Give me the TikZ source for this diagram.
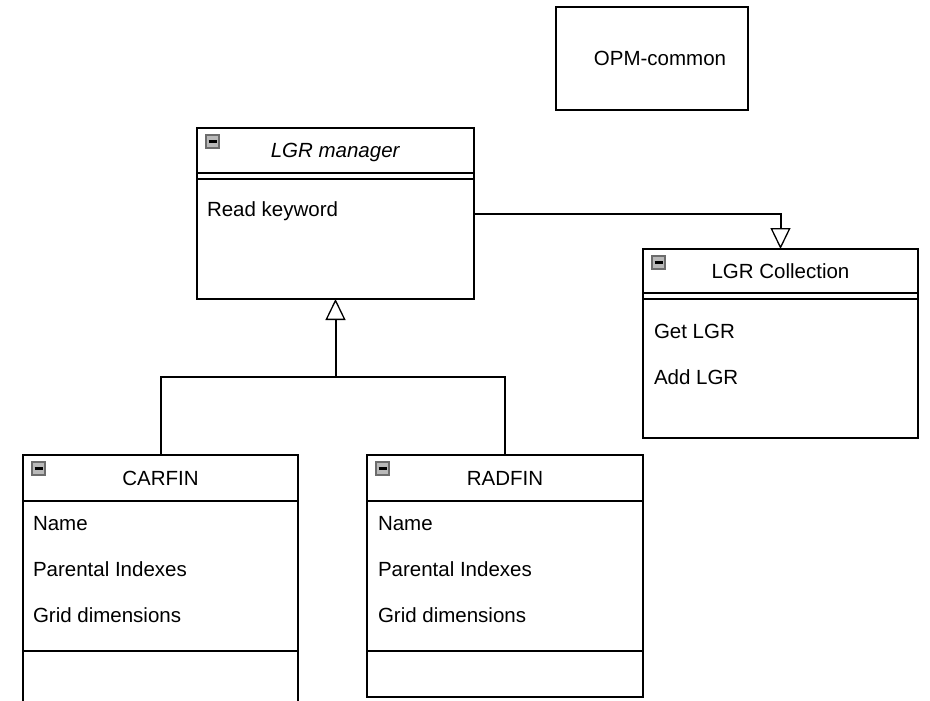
\documentclass[tikz,border=0pt]{standalone}
\usepackage{fontspec}
\setmainfont{Liberation Sans}
\usetikzlibrary{arrows.meta,positioning}

\begin{document}
\begin{tikzpicture}[
  x=1pt,y=-1pt,
  font=\fontsize{20.5}{24}\selectfont,
  every node/.style={outer sep=0pt},
  box/.style={draw,line width=2pt,inner sep=0pt},
  head/.style={box,text depth=0pt},
  members/.style={align=left,inner sep=0pt,font=\fontsize{20.5}{46}\selectfont},
  collapse/.style={draw=gray!85!black,fill=gray!55,line width=1.2pt,minimum size=13pt,inner sep=0pt,
    path picture={\draw[line width=2.4pt,black] ([xshift=2.5pt]path picture bounding box.west) -- ([xshift=-2.5pt]path picture bounding box.east);}},
  link/.style={line width=2pt},
  extends/.style={link,-{Triangle[open,width=20pt,length=21pt,line width=1.3pt]}},
]
  \useasboundingbox (0,0) rectangle (930,701);

  % package box
  \node[box,minimum width=192pt,minimum height=103pt] (opm) at (652,58.5) {\hspace*{16pt}OPM-common};

  % LGR manager
  \node[head,minimum width=277pt,minimum height=45pt] (mgrhead) at (335.5,150.5) {\textit{LGR manager}};
  \node[box,minimum width=277pt,minimum height=6pt,below=0pt of mgrhead] (mgrattr) {};
  \node[box,minimum width=277pt,minimum height=120pt,below=0pt of mgrattr] (mgrops) {};
  \node[collapse,below right=7pt and 9pt of mgrhead.north west] (mgricon) {};
  \node[members,below right=23pt and 10pt of mgrops.north west] (mgrtext) {Read keyword};

  % LGR Collection
  \node[head,minimum width=275pt,minimum height=44pt] (collhead) at (780.5,271) {LGR Collection};
  \node[box,minimum width=275pt,minimum height=6pt,below=0pt of collhead] (collattr) {};
  \node[box,minimum width=275pt,minimum height=139pt,below=0pt of collattr] (collops) {};
  \node[collapse,below right=7pt and 9pt of collhead.north west] (collicon) {};
  \node[members,below right=25pt and 11pt of collops.north west] (colltext) {Get LGR\\Add LGR};

  % CARFIN
  \node[head,minimum width=275pt,minimum height=46pt] (carfinhead) at (160.5,478) {CARFIN};
  \node[box,minimum width=275pt,minimum height=150pt,below=0pt of carfinhead] (carfinattr) {};
  \node[box,minimum width=275pt,minimum height=70pt,below=0pt of carfinattr] (carfinops) {};
  \node[collapse,below right=7pt and 9pt of carfinhead.north west] (carfinicon) {};
  \node[members,below right=15pt and 10pt of carfinattr.north west] (carfintext) {Name\\Parental Indexes\\Grid dimensions};

  % RADFIN
  \node[head,minimum width=276pt,minimum height=46pt] (radfinhead) at (505,478) {RADFIN};
  \node[box,minimum width=276pt,minimum height=150pt,below=0pt of radfinhead] (radfinattr) {};
  \node[box,minimum width=276pt,minimum height=46pt,below=0pt of radfinattr] (radfinops) {};
  \node[collapse,below right=7pt and 9pt of radfinhead.north west] (radfinicon) {};
  \node[members,below right=15pt and 11pt of radfinattr.north west] (radfintext) {Name\\Parental Indexes\\Grid dimensions};

  % generalisation
  \coordinate (fork) at (mgrops.south |- 0,377);
  \draw[link] (carfinhead.north) |- (fork) -| (radfinhead.north);
  \draw[extends] (fork) -- (mgrops.south);
  \draw[extends] ([yshift=25pt]mgrops.east) -| (collhead.north);
\end{tikzpicture}
\end{document}
